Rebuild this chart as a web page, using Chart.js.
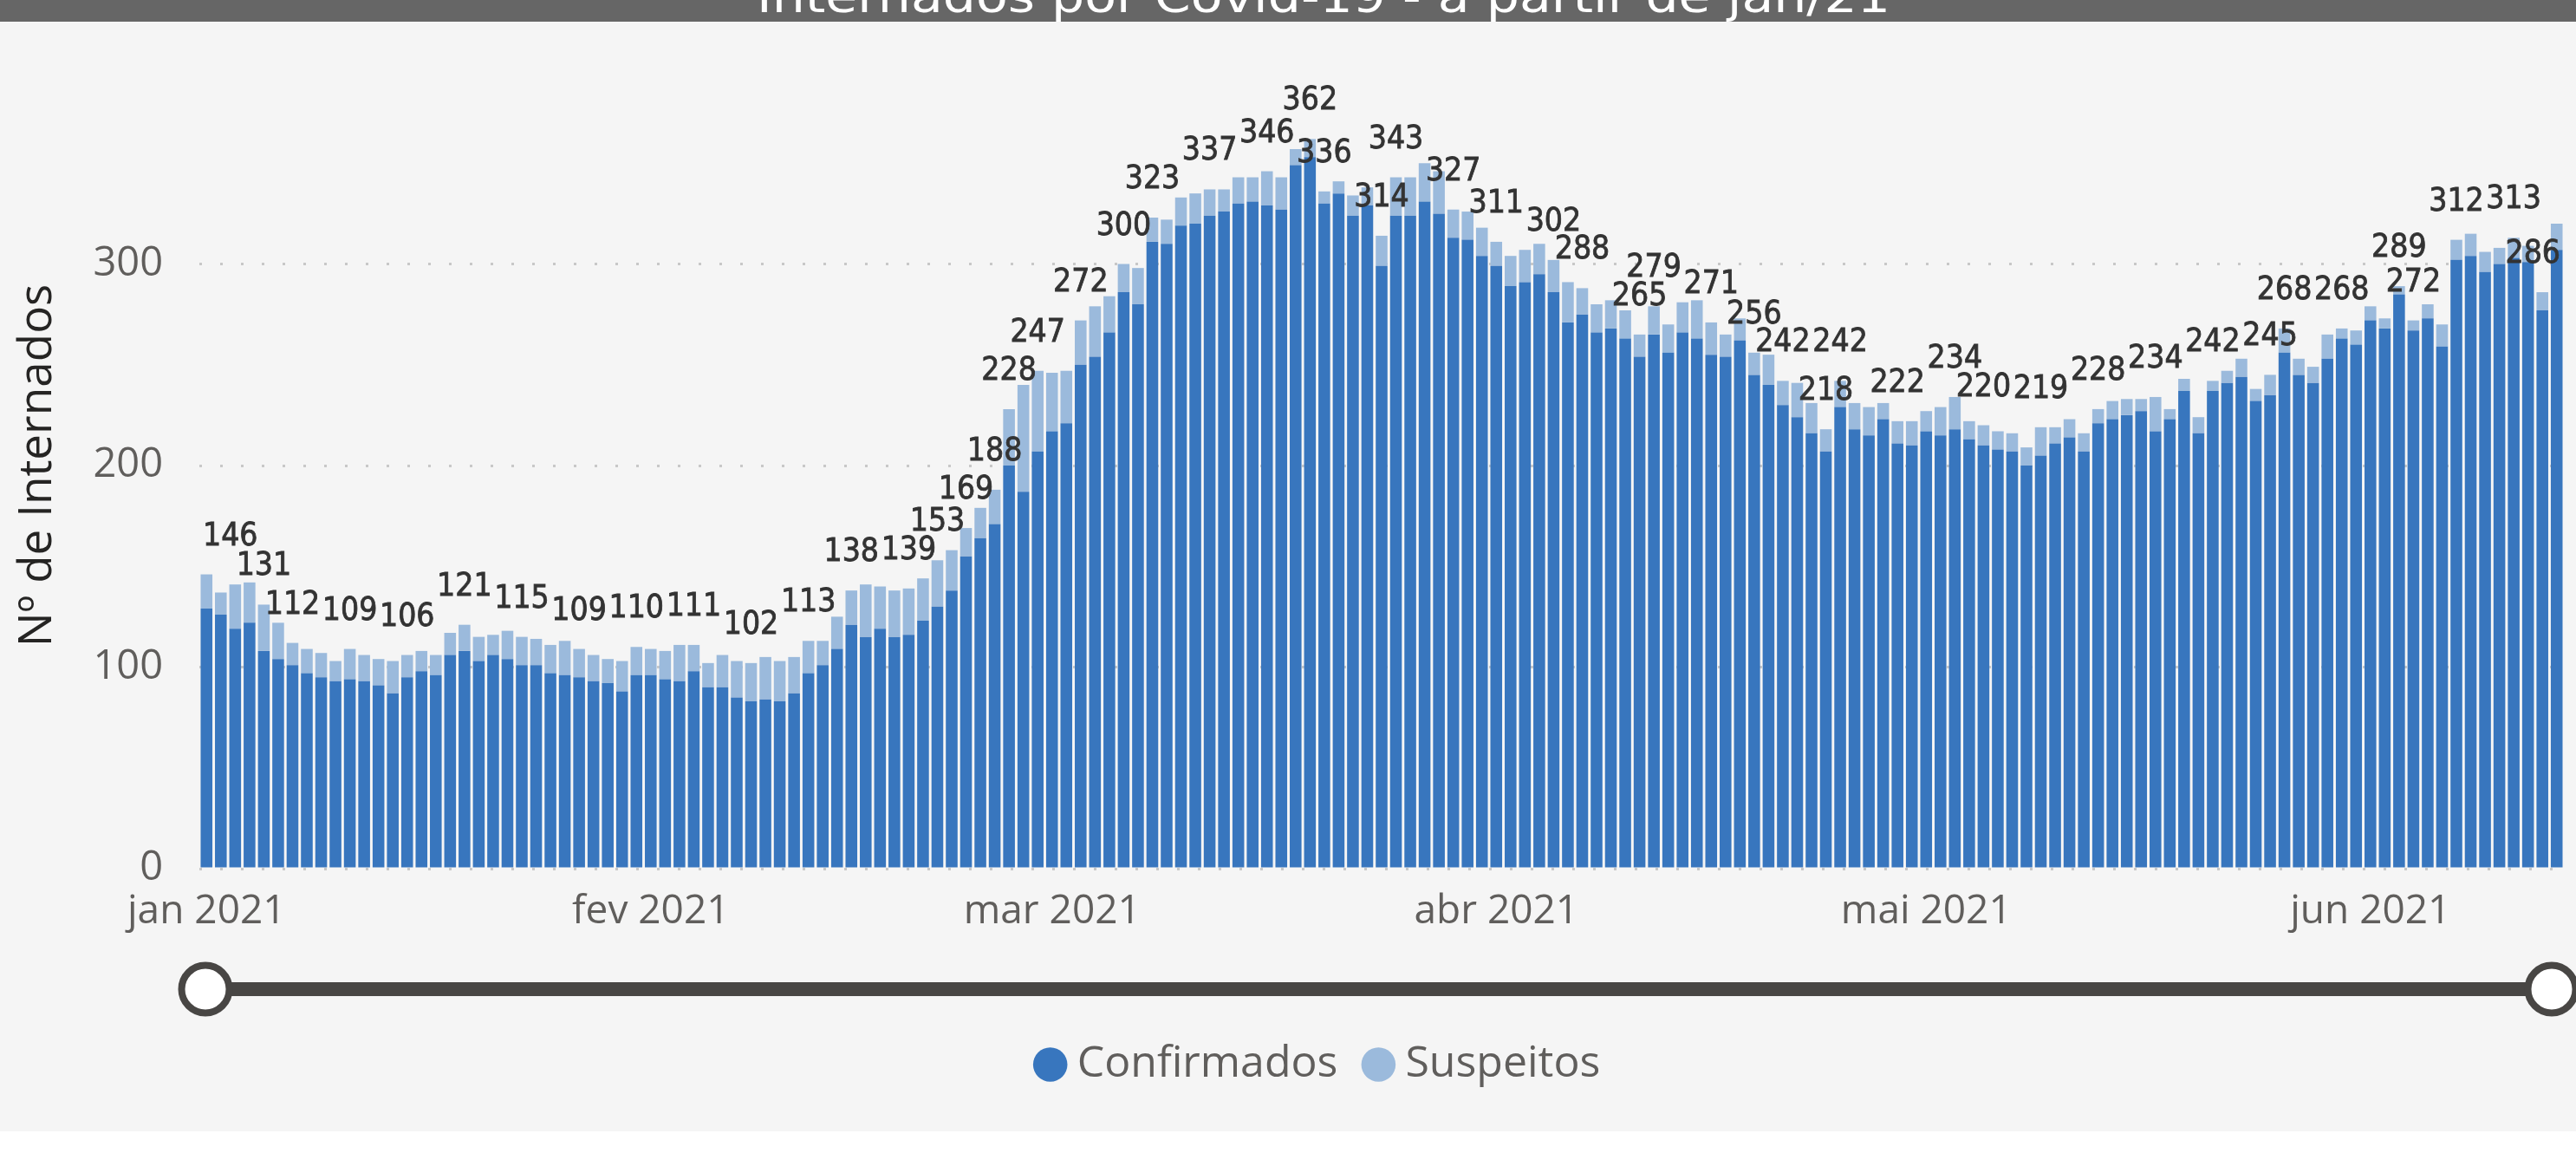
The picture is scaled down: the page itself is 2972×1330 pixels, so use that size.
<!DOCTYPE html>
<html>
<head>
<meta charset="utf-8">
<script src="https://cdn.jsdelivr.net/npm/chart.js@4.4.1/dist/chart.umd.min.js"></script>
<style>
  html,body{margin:0;padding:0;background:#fff;}
  body{width:2972px;height:1330px;position:relative;overflow:hidden;}
  #panel{position:absolute;left:0;top:0;width:2972px;height:1305px;background:#f5f5f5;}
  #titleBar{position:absolute;left:0;top:0;width:2972px;height:25px;background:#666;overflow:hidden;z-index:2;}
  #titleText{position:absolute;left:873px;top:-30px;white-space:nowrap;color:#fff;line-height:52px;
    font-size:52px;font-family:"DejaVu Sans Condensed","DejaVu Sans",sans-serif;transform-origin:0 0;}
  #chart{position:absolute;left:0;top:0;}
</style>
</head>
<body>
<div id="panel"></div>
<div id="titleBar"><span id="titleText">Internados por Covid-19 - a partir de jan/21</span></div>
<canvas id="chart" width="2972" height="1305"></canvas>
<script>
// ---- data (one bar per day, 01/jan/2021 .. 14/jun/2021) ----
const firstDay = Date.UTC(2021, 0, 1);
const nDays = 165;
const categories = [];
for (let i = 0; i < nDays; i++) categories.push(new Date(firstDay + i * 864e5).toISOString().slice(0, 10));

const confirmados = [
  129,126,119,122,108,104,101, 97, 95, 93, 94, 93, 91, 87, 95, 98, 96,106,108,103,
  106,104,101,101, 97, 96, 95, 93, 92, 88, 96, 96, 94, 93, 98, 90, 90, 85, 83, 84,
   83, 87, 97,101,109,121,115,119,115,116,123,130,138,155,164,171,200,187,207,217,
  221,250,254,266,286,280,311,310,319,320,324,326,330,331,329,327,349,353,330,335,
  324,329,299,324,324,331,325,313,312,304,299,289,291,295,286,271,275,266,268,263,
  254,265,256,266,263,255,254,262,245,240,230,224,216,207,229,218,215,223,211,210,
  217,215,218,213,210,208,207,200,205,211,214,207,221,223,225,227,217,223,237,216,
  237,241,244,232,235,256,245,241,253,263,260,272,268,285,267,273,259,302,304,296,
  300,303,301,277,307
];
const suspeitos = [
   17, 11, 22, 20, 23, 18, 11, 12, 12, 10, 15, 13, 13, 16, 11, 10, 10, 11, 13, 12,
   10, 14, 14, 13, 14, 17, 14, 13, 12, 15, 14, 13, 14, 18, 13, 12, 16, 18, 19, 21,
   20, 18, 16, 12, 16, 17, 26, 21, 23, 23, 21, 23, 20, 14, 15, 17, 28, 53, 40, 29,
   26, 22, 25, 18, 14, 18, 12, 12, 14, 15, 13, 11, 13, 12, 17, 16,  8,  9,  6,  6,
   10,  9, 15, 19, 19, 19, 21, 14, 14, 14, 12, 15, 16, 15, 16, 20, 13, 14, 14, 14,
   11, 14, 14, 15, 19, 16, 11, 11, 11, 15, 12, 17, 15, 11, 13, 13, 14,  8, 11, 12,
   10, 14, 16,  9, 10,  9,  9,  9, 14,  8,  9,  9,  7,  9,  8,  6, 17,  5,  6,  8,
    5,  6,  9,  6, 10, 12,  8,  8, 12,  5,  7,  7,  5,  4,  5,  7, 11, 10, 11, 10,
    8, 10,  8,  9, 13
];
// bars whose total is written above them
const labelIdx = [0,4,6,10,14,18,22,26,30,34,38,42,45,49,51,53,55,56,58,61,64,66,70,74,77,78,
  82,83,87,90,94,96,100,101,105,108,110,113,114,118,122,124,128,132,136,140,144,145,149,153,154,157,161,163];
const monthTickIdx = [0, 31, 59, 90, 120, 151];
const monthTickLabels = ['jan 2021','fev 2021','mar 2021','abr 2021','mai 2021','jun 2021'];
const yTicks = [0, 100, 200, 300];

// ---- title width like the original ----
(function(){
  const t = document.getElementById('titleText');
  const w = t.getBoundingClientRect().width;
  t.style.transform = 'scaleX(' + (1308 / w) + ')';
})();

const UI_FONT = '"Open Sans", "Noto Sans", sans-serif';

// totals above selected bars
const totalLabels = {
  id: 'totalLabels',
  afterDatasetsDraw(chart){
    const {ctx, chartArea} = chart;
    const meta = chart.getDatasetMeta(0), y = chart.scales.y;
    ctx.save();
    ctx.font = '37px "DejaVu Sans Condensed", "DejaVu Sans", sans-serif';
    ctx.fillStyle = '#333';
    ctx.strokeStyle = '#333';
    ctx.lineWidth = 0.8;
    ctx.textAlign = 'center';
    ctx.textBaseline = 'alphabetic';
    labelIdx.forEach(i => {
      const total = confirmados[i] + suspeitos[i];
      const txt = String(total);
      const w = ctx.measureText(txt).width;
      let x = meta.data[i].x;
      x = Math.max(chartArea.left + w/2 + 4, Math.min(chartArea.right - w/2 - 4, x));
      const ty = y.getPixelForValue(total) - 34;
      ctx.fillText(txt, x, ty);
      ctx.strokeText(txt, x, ty);
    });
    ctx.restore();
  }
};

// legend sits a bit right of centre in the original
const legendNudge = {
  id: 'legendNudge',
  afterLayout(chart){
    if (chart.legend) { chart.legend.left += 47; chart.legend.right += 47; }
  }
};

// date range slider under the axis (cosmetic)
const rangeSlider = {
  id: 'rangeSlider',
  afterDraw(chart){
    const ctx = chart.ctx, y = 1141, x0 = 237, x1 = 2944;
    ctx.save();
    ctx.strokeStyle = '#484644';
    ctx.lineWidth = 16;
    ctx.beginPath(); ctx.moveTo(x0, y); ctx.lineTo(x1, y); ctx.stroke();
    ctx.lineWidth = 8;
    ctx.fillStyle = '#fff';
    [x0, x1].forEach(x => { ctx.beginPath(); ctx.arc(x, y, 27.5, 0, Math.PI*2); ctx.fill(); ctx.stroke(); });
    ctx.restore();
  }
};

new Chart(document.getElementById('chart'), {
  type: 'bar',
  data: {
    labels: categories,
    datasets: [
      { label: 'Confirmados', data: confirmados, backgroundColor: '#3876be', barPercentage: 0.82, categoryPercentage: 1 },
      { label: 'Suspeitos',   data: suspeitos,   backgroundColor: '#9bbadc', barPercentage: 0.82, categoryPercentage: 1 }
    ]
  },
  options: {
    responsive: false,
    animation: false,
    layout: { padding: { left: 0, right: 14, top: 72, bottom: 42 } },
    plugins: {
      tooltip: { enabled: false },
      legend: {
        position: 'bottom',
        labels: { usePointStyle: true, pointStyle: 'circle', boxWidth: 12, boxHeight: 28, padding: 41,
                  color: '#605e5c', font: { family: UI_FONT, size: 50 } }
      }
    },
    scales: {
      x: {
        stacked: true,
        grid: { display: false },
        border: { display: false },
        afterBuildTicks(s){ s.ticks = monthTickIdx.map(v => ({ value: v })); },
        afterFit(s){ s.height = 160; },
        ticks: {
          autoSkip: false, maxRotation: 0, padding: 14, color: '#605e5c',
          font: { family: UI_FONT, size: 46 },
          callback(v){ return monthTickLabels[monthTickIdx.indexOf(v)]; }
        }
      },
      y: {
        stacked: true, min: 0, max: 400,
        afterBuildTicks(s){ s.ticks = yTicks.map(v => ({ value: v })); },
        afterFit(s){ s.width = 230; },
        grid: { color: '#c8c8c8', lineWidth: 3, drawTicks: false },
        border: { display: false, dash: [3, 21] },
        ticks: { padding: 42, color: '#605e5c', font: { family: UI_FONT, size: 47 } },
        title: { display: true, text: 'Nº de Internados', color: '#252423',
                 font: { family: UI_FONT, size: 53 }, padding: { top: 12, bottom: 0 } }
      }
    }
  },
  plugins: [totalLabels, legendNudge, rangeSlider]
});
</script>
</body>
</html>
